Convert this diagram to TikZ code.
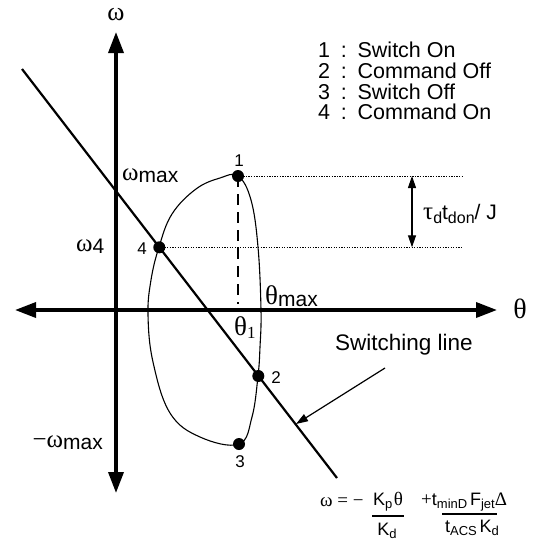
\documentclass[tikz,border=0pt]{standalone}
\usepackage{fontspec}
\setmainfont{Liberation Sans}
\newfontfamily\grk{Liberation Serif}
\usetikzlibrary{arrows.meta}
\newcommand\fs[1]{\fontsize{#1}{#1}\selectfont}
\newcommand\lowr[3]{\raisebox{-#1pt}{\fs{#2}#3}}
\begin{document}
\begin{tikzpicture}[x=1pt,y=-1pt,
  axis/.style={line width=3.5pt,{Triangle[length=21pt,width=15pt]}-{Triangle[length=21pt,width=15pt]}},
  swline/.style={line width=2.2pt},
  traj/.style={line width=1.1pt},
  dot/.style={circle,fill,inner sep=0pt,minimum size=12pt},
  lbl/.style={inner sep=0pt,font=\fs{21.5}},
  num/.style={inner sep=0pt,font=\fs{17}},
  guide/.style={line width=0.9pt,dash pattern=on 1.3pt off 1.3pt},
  thin/.style={line width=1.2pt}
]
\useasboundingbox (0,0) rectangle (533,541);
% axes
\coordinate (xl) at (15,310);
\coordinate (xr) at (497,310);
\coordinate (yt) at (116,32);
\coordinate (yb) at (116,493);
\draw[axis] (xl) -- (xr);
\draw[axis] (yb) -- (yt);
\node[inner sep=0pt,font=\grk\fs{26}] (wlab) at (116,15) {ω};
\node[inner sep=0pt,font=\grk\fs{28}] (tlab) at (520,309) {θ};
% switching line
\coordinate (s1) at (22,69);
\coordinate (s2) at (337,478);
\draw[swline] (s1) -- (s2);
% trajectory
\draw[traj] plot[smooth cycle, tension=0.65] coordinates {
 (238,176) (251,200) (258,247) (261,310) (260,347) (258,376) (252,417) (239,444)
 (200,437) (170,413) (153,362) (148,315) (151,280) (159,247) (172,214) (196,189) (220,178)};
% points
\node[dot] (p1) at (238,176) {};
\node[dot] (p2) at (258.3,376) {};
\node[dot] (p3) at (239,444) {};
\node[dot] (p4) at (159.3,247.3) {};
\node[num] (n1) at (239,161) {1};
\node[num] (n2) at (276,378) {2};
\node[num] (n3) at (240,462) {3};
\node[num] (n4) at (142,249) {4};
% guides
\coordinate (d1) at (238,304);
\draw[thin,dash pattern=on 11pt off 7pt] (p1.center) -- (d1);
\coordinate (g1) at (463,176);
\coordinate (g4) at (463,247.3);
\draw[guide] (p1.center) -- (g1);
\draw[guide] (p4.center) -- (g4);
\coordinate (a1) at (412,176);
\coordinate (a4) at (412,247.3);
\draw[thin,{Triangle[length=12pt,width=8pt]}-{Triangle[length=12pt,width=8pt]}] (a1) -- (a4);
\node[inner sep=0pt,anchor=west] (tau) at (423,214) {{\grk\fs{25}τ}\lowr{4}{16}{d}{\fs{21}t}\lowr{4}{16}{don}{\fs{21}/ J}};
% axis value labels
\node[inner sep=0pt,anchor=west] (wmax) at (122,176) {{\grk\fs{25}ω}\lowr{2}{21}{max}};
\node[inner sep=0pt,anchor=west] (w4) at (76,246) {{\grk\fs{25}ω}\lowr{2}{21}{4}};
\node[inner sep=0pt,anchor=east] (mwmax) at (103,443) {{\grk\fs{25}−ω}\lowr{2}{21}{max}};
\node[inner sep=0pt,anchor=west] (tmax) at (265,296) {{\grk\fs{27}θ}\lowr{2}{21}{max}};
\node[inner sep=0pt,anchor=west] (t1) at (234,328) {{\grk\fs{27}θ}{\grk\lowr{3}{17}{1}}};
% legend
\node[lbl,anchor=west] (l1) at (318,50) {1\enspace:\enspace Switch On};
\node[lbl,anchor=west] (l2) at (318,71) {2\enspace:\enspace Command Off};
\node[lbl,anchor=west] (l3) at (318,91.5) {3\enspace:\enspace Switch Off};
\node[lbl,anchor=west] (l4) at (318,112) {4\enspace:\enspace Command On};
% switching line label and pointer
\node[inner sep=0pt,anchor=west,font=\fs{22.5}] (swl) at (335,345) {Switching line};
\coordinate (pa) at (385,368);
\coordinate (pb) at (296,424);
\draw[thin,-{Triangle[length=12pt,width=8pt]}] (pa) -- (pb);
% formula
\node[inner sep=0pt,anchor=west] (f0) at (320,502) {{\grk\fs{19}ω = −}};
\node[inner sep=0pt] (f1) at (388,502) {{\fs{18}K}\lowr{3}{13}{p}\,{\grk\fs{19}θ}};
\coordinate (fl1a) at (372,516);
\coordinate (fl1b) at (404,516);
\draw[thin] (fl1a) -- (fl1b);
\node[inner sep=0pt] (f2) at (387,531) {{\fs{18}K}\lowr{3}{13}{d}};
\node[inner sep=0pt,anchor=west] (f3) at (421,502) {{\grk\fs{19}+}{\fs{18}t}\lowr{3}{13}{minD}\ {\fs{18}F}\lowr{3}{13}{jet}{\grk\fs{19}Δ}};
\coordinate (fl2a) at (442,514);
\coordinate (fl2b) at (497,514);
\draw[thin] (fl2a) -- (fl2b);
\node[inner sep=0pt] (f4) at (472,528) {{\fs{18}t}\lowr{3}{13}{ACS}\ {\fs{18}K}\lowr{3}{13}{d}};
\end{tikzpicture}
\end{document}
